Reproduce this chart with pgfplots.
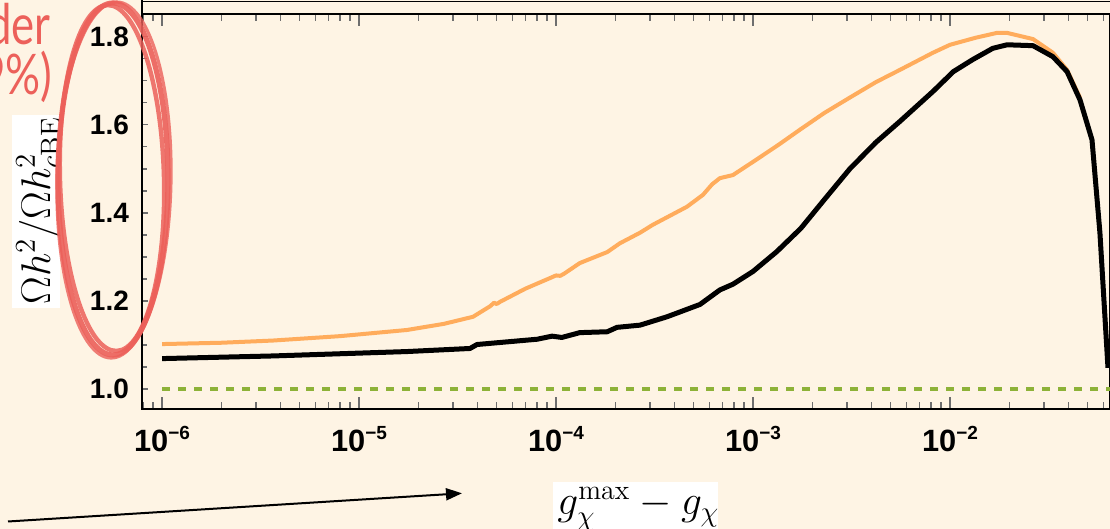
\documentclass[border=0pt]{standalone}
\usepackage{pgfplots}
\pgfplotsset{compat=1.18}
\usepackage{fontspec}
\setsansfont{Liberation Sans}
\newfontfamily\redfont{Lato}
\usetikzlibrary{arrows.meta}
\definecolor{bgc}{RGB}{254,244,228}
\definecolor{orc}{RGB}{255,172,92}
\definecolor{grc}{RGB}{141,178,56}
\definecolor{redc}{RGB}{236,96,90}
\definecolor{tickc}{RGB}{110,110,110}
\begin{document}
\begin{tikzpicture}[x=0.5pt,y=0.5pt]
\path[use as bounding box, clip] (0,0) rectangle (1110,529);
\fill[bgc] (0,0) rectangle (1110,529);
% top frame line of another panel
\draw[black, line width=0.6pt] (142,527.5) -- (1110,527.5);
\draw[black, line width=0.6pt] (142,529) -- (142,515);
\begin{axis}[
  at={(71pt,60pt)}, anchor=south west,
  scale only axis, width=484pt, height=197.5pt,
  xmode=log, log basis x=10,
  xmin=7.91e-7, xmax=0.0649,
  ymin=0.9545, ymax=1.852,
  axis line style={black, line width=0.6pt},
  tick align=inside,
  ytick pos=left,
  tick style={color=tickc, line width=0.6pt},
  xtick style={/pgfplots/major tick length=6pt, /pgfplots/minor tick length=3.7pt},
  ytick style={/pgfplots/major tick length=2.8pt, /pgfplots/minor tick length=2.5pt},
  xtick={1e-6,1e-5,1e-4,1e-3,1e-2},
  xticklabels={%
    10\raisebox{6pt}{\fontsize{9.5}{10}\selectfont −6},
    10\raisebox{6pt}{\fontsize{9.5}{10}\selectfont −5},
    10\raisebox{6pt}{\fontsize{9.5}{10}\selectfont −4},
    10\raisebox{6pt}{\fontsize{9.5}{10}\selectfont −3},
    10\raisebox{6pt}{\fontsize{9.5}{10}\selectfont −2}},
  minor xtick={8e-7,9e-7,
    2e-6,3e-6,4e-6,5e-6,6e-6,7e-6,8e-6,9e-6,
    2e-5,3e-5,4e-5,5e-5,6e-5,7e-5,8e-5,9e-5,
    2e-4,3e-4,4e-4,5e-4,6e-4,7e-4,8e-4,9e-4,
    2e-3,3e-3,4e-3,5e-3,6e-3,7e-3,8e-3,9e-3,
    2e-2,3e-2,4e-2,5e-2,6e-2},
  ytick={1.0,1.2,1.4,1.6,1.8},
  yticklabels={1.0,1.2,1.4,1.6,1.8},
  minor ytick={1.05,1.1,1.15,1.25,1.3,1.35,1.45,1.5,1.55,1.65,1.7,1.75,1.85},
  xticklabel style={font=\fontsize{15.4}{18}\selectfont\sffamily\bfseries, text=black, anchor=north, yshift=-5pt},
  yticklabel style={font=\fontsize{14}{16}\selectfont\sffamily\bfseries, text=black, anchor=east, xshift=-3pt},
  clip=true,
]
\addplot[grc, line width=2pt, dash pattern=on 4pt off 4pt] coordinates {(1e-6,1.0) (0.0649,1.0)};
\addplot[orc, line width=2pt, line join=round] coordinates {
(1e-6,1.102) (2e-6,1.105) (3.65e-6,1.110) (8e-6,1.120) (1.75e-5,1.134) (2.7e-5,1.148)
(3.79e-5,1.164) (4.63e-5,1.188) (4.85e-5,1.196) (5.0e-5,1.193) (5.2e-5,1.198) (7e-5,1.228)
(9.33e-5,1.252) (1.0e-4,1.258) (1.05e-4,1.257) (1.1e-4,1.262) (1.32e-4,1.286) (1.82e-4,1.311)
(2.11e-4,1.331) (2.67e-4,1.355) (3.10e-4,1.373) (4.62e-4,1.414) (5.57e-4,1.441) (6.2e-4,1.465)
(6.79e-4,1.479) (7.91e-4,1.486) (1.0e-3,1.516) (1.35e-3,1.555) (1.73e-3,1.589) (2.3e-3,1.627)
(3.1e-3,1.662) (4.2e-3,1.697) (5.57e-3,1.725)
(8.2e-3,1.764) (1.0e-2,1.782) (1.35e-2,1.798) (1.73e-2,1.809) (1.95e-2,1.809) (2.64e-2,1.795) (3.33e-2,1.764)
(3.93e-2,1.725) (4.57e-2,1.662)};
\addplot[black, line width=2.5pt, line join=round] coordinates {
(1e-6,1.069) (3.65e-6,1.075) (1.75e-5,1.085) (3.66e-5,1.092) (3.97e-5,1.101) (8.02e-5,1.113)
(9.55e-5,1.120) (1.07e-4,1.117) (1.32e-4,1.128) (1.82e-4,1.130) (2.04e-4,1.140) (2.67e-4,1.145)
(3.66e-4,1.164) (5.38e-4,1.192) (6.79e-4,1.225) (7.91e-4,1.238) (1.0e-3,1.267) (1.32e-3,1.312)
(1.75e-3,1.365) (2.3e-3,1.43) (3.10e-3,1.50) (4.2e-3,1.56) (5.57e-3,1.608) (8.2e-3,1.676) (1.04e-2,1.721) (1.3e-2,1.748) (1.65e-2,1.774)
(1.95e-2,1.782) (2.64e-2,1.780) (3.33e-2,1.755) (3.93e-2,1.721) (4.57e-2,1.657) (5.26e-2,1.566)
(5.77e-2,1.355) (6.34e-2,1.048)};
\end{axis}
% y label on white box
\begin{scope}
\clip (12,221) rectangle (60,414);
\fill[white] (12,221) rectangle (60,414);
\node[rotate=90, anchor=base west, inner sep=0pt, font=\fontsize{20}{24}\selectfont] at (50,224) {$\Omega h^2/\Omega h^2_{c\mathrm{BE}}$};
\end{scope}
% x label on white box
\begin{scope}
\clip (553,0) rectangle (718,47);
\fill[white] (553,0) rectangle (718,47);
\node[anchor=base west, inner sep=0pt, font=\fontsize{20}{24}\selectfont] at (557,14) {$g_\chi^{\max}-g_\chi$};
\end{scope}
% red slide text
\node[anchor=base east, inner sep=0pt, text=redc] at (51,484) {\scalebox{0.78}[1]{\redfont\fontsize{28}{32}\selectfont der}};
\node[anchor=base east, inner sep=0pt, text=redc] at (53,434) {\scalebox{0.78}[1]{\redfont\fontsize{28}{32}\selectfont 9\%)}};
% red hand-drawn ellipse
\draw[redc, line width=2.6pt, opacity=0.9] (113,350) ellipse [x radius=55, y radius=176];
\draw[redc, line width=2.2pt, opacity=0.85, rotate around={1.5:(113,350)}] (112,351) ellipse [x radius=52, y radius=173];
\draw[redc, line width=1.6pt, opacity=0.8, rotate around={-1:(113,350)}] (114,349) ellipse [x radius=57, y radius=178];
% arrow
\draw[black, line width=1pt, -{Triangle[length=8pt,width=6pt]}] (8,7.5) -- (462,35.7);
\end{tikzpicture}
\end{document}
